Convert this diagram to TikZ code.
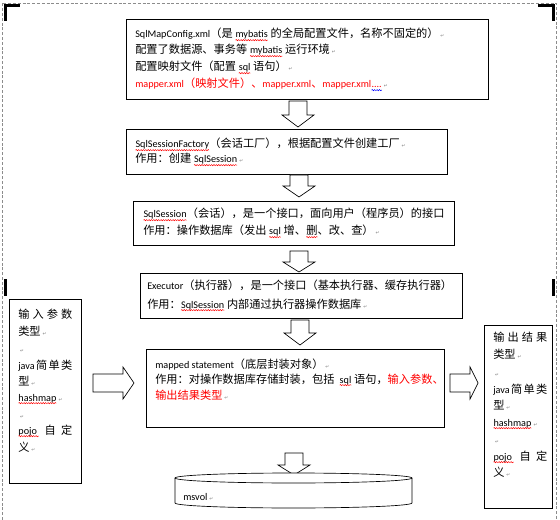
\documentclass[tikz,border=0pt]{standalone}
\usepackage{fontspec}
\usetikzlibrary{decorations.pathmorphing}
\newfontfamily\cjk{Noto Sans CJK SC}
\newfontfamily\latf[Scale=0.91]{Carlito}
\newfontfamily\symf{DejaVu Sans}
\newcommand\la[1]{{\latf #1}}
\newcommand\pmk{\,{\symf\fontsize{3.5pt}{4pt}\selectfont\color{gray}↵}}
\newcommand\wv[2][red]{\tikz[baseline=(wvx.base)]{\node[inner sep=0pt,outer sep=0pt,anchor=base] (wvx) {#2};\draw[#1,line width=0.35pt,decorate,decoration={snake,amplitude=0.45pt,segment length=1.8pt}] ([yshift=-1.6pt]wvx.base west) -- ([yshift=-1.6pt]wvx.base east);}}
\newcommand\jb[1]{\makebox[40.5pt][s]{#1}}
\tikzset{
  box/.style={draw=black, line width=0.6pt},
  txt/.style={anchor=base west, inner sep=0pt, font=\cjk\fontsize{8.4pt}{10pt}\selectfont},
  blk/.style={draw=black, line width=0.5pt, fill=white},
  cropmk/.style={draw=black, line width=2.25pt},
  pageedge/.style={draw=black!45, line width=0.7pt, dash pattern=on 2.2pt off 1.4pt},
}
\begin{document}
\begin{tikzpicture}[x=0.75pt,y=-0.75pt]
\useasboundingbox (0,0) rectangle (560,520);
% page edge and crop marks
\draw[pageedge] (2,520) -- (2,3) -- (556,3) -- (556,520);
\draw[cropmk] (5,21) -- (5,5.5) -- (20,5.5);
\draw[cropmk] (538,5.5) -- (553.5,5.5) -- (553.5,21);
\draw[cropmk] (5.5,279) -- (5.5,296);
\draw[cropmk] (553.5,279) -- (553.5,296);

% boxes
\draw[box] (126,19) rectangle (488,99);
\draw[box] (126,129) rectangle (447,174);
\draw[box] (133,201) rectangle (454,245);
\draw[box] (140,273) rectangle (462,318);
\draw[box] (146,349) rectangle (444,427);
\draw[box] (9,299) rectangle (81,483);
\draw[box] (484,325) rectangle (552,508);

% down block arrows
\foreach \c/\t/\b/\p in {298/101/115/127, 299/175/186/197, 299/251/262/272, 300/320/333/345, 294/453/465/475}
  \draw[blk] (\c-9,\t) -- (\c+9,\t) -- (\c+9,\b) -- (\c+16,\b) -- (\c,\p) -- (\c-16,\b) -- (\c-9,\b) -- cycle;
% right block arrows
\foreach \a/\h/\p in {93/123/134, 450/470/478}
  \draw[blk] (\a,374) -- (\h,374) -- (\h,367) -- (\p,383) -- (\h,399) -- (\h,392) -- (\a,392) -- cycle;

% database cylinder
\draw[blk] (175,478) -- (175,503) arc[start angle=180,end angle=0,x radius=118.5,y radius=5] -- (412,478);
\draw[blk] (293.5,478) ellipse[x radius=118.5,y radius=5];

% box 1
\node[txt] (a1) at (135,38) {\la{SqlMapConfig.xml}（是 \wv{\la{mybatis}} 的全局配置文件，名称不固定的）\pmk};
\node[txt] (a2) at (135,54) {配置了数据源、事务等 \wv{\la{mybatis}} 运行环境\pmk};
\node[txt] (a3) at (135,71) {配置映射文件（配置 \wv{\la{sql}} 语句）\pmk};
\node[txt,text=red] (a4) at (135,88) {\la{mapper.xml}（映射文件）、\la{mapper.xml}、\la{mapper.xml}\wv[blue]{\la{....}}\pmk};
% box 2
\node[txt] (b1) at (135,148) {\wv{\la{SqlSessionFactory}}（会话工厂），根据配置文件创建工厂\pmk};
\node[txt] (b2) at (135,163) {作用：创建 \wv{\la{SqlSession}}\pmk};
% box 3
\node[txt] (c1) at (143,218) {\wv{\la{SqlSession}}（会话），是一个接口，面向用户（程序员）的接口};
\node[txt] (c2) at (143,235) {作用：操作数据库（发出 \wv{\la{sql}} 增、\wv{删}、改、查）\pmk};
% box 4
\node[txt] (d1) at (147,289) {\la{Executor}（执行器），是一个接口（基本执行器、缓存执行器）};
\node[txt] (d2) at (147,308) {作用：\wv{\la{SqlSession}} 内部通过执行器操作数据库\pmk};
% box 5
\node[txt] (e1) at (155,368) {\la{mapped statement}（底层封装对象）\pmk};
\node[txt] (e2) at (155,383) {作用：对操作数据库存储封装，包括 \ \wv{\la{sql}} 语句，\textcolor{red}{输入参数、}};
\node[txt,text=red] (e3) at (155,399) {输出结果类型\pmk};
% database label
\node[txt] (db) at (183,500) {\la{msvol}\pmk};

% left box
\node[txt] (l1) at (18,318) {\jb{输\hfill 入\hfill 参\hfill 数}};
\node[txt] (l2) at (18,335) {类型\pmk};
\node[txt] (l3) at (18,352) {\pmk};
\node[txt] (l4) at (18,369) {\jb{\la{java}\hfill 简\hfill 单\hfill 类}};
\node[txt] (l5) at (18,385) {型\pmk};
\node[txt] (l6) at (18,401) {\wv{\la{hashmap}}\pmk};
\node[txt] (l7) at (18,418) {\pmk};
\node[txt] (l8) at (18,434) {\jb{\wv{\la{pojo}\,}\hfill 自\hfill 定}};
\node[txt] (l9) at (18,451) {义\pmk};

% right box
\node[txt] (r1) at (493,341) {\jb{输\hfill 出\hfill 结\hfill 果}};
\node[txt] (r2) at (493,358) {类型\pmk};
\node[txt] (r3) at (493,376) {\pmk};
\node[txt] (r4) at (493,393) {\jb{\la{java}\hfill 简\hfill 单\hfill 类}};
\node[txt] (r5) at (493,409) {型\pmk};
\node[txt] (r6) at (493,426) {\wv{\la{hashmap}}\pmk};
\node[txt] (r7) at (493,443) {\pmk};
\node[txt] (r8) at (493,460) {\jb{\wv{\la{pojo}\,}\hfill 自\hfill 定}};
\node[txt] (r9) at (493,476) {义\pmk};
\end{tikzpicture}
\end{document}
